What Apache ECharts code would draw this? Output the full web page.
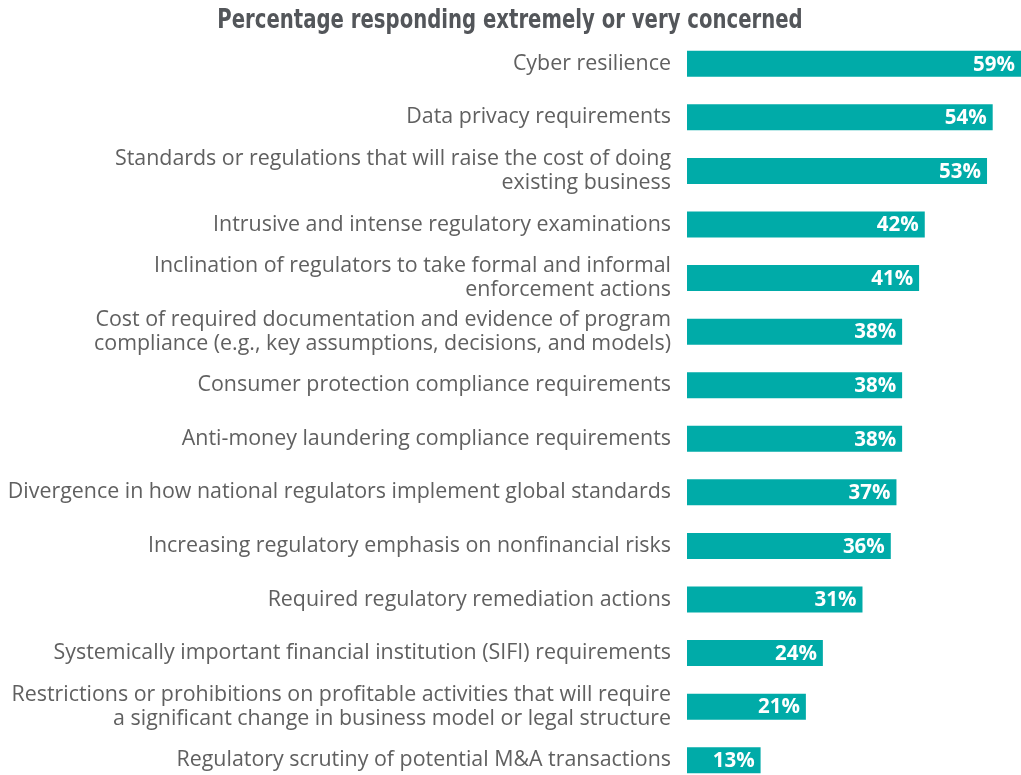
<!DOCTYPE html>
<html>
<head>
<meta charset="utf-8">
<script src="https://cdn.jsdelivr.net/npm/echarts@6/dist/echarts.min.js"></script>
<style>
html,body{margin:0;padding:0;background:#fff;}
#concern{width:1021px;height:775px;}
</style>
</head>
<body>
<div id="concern"></div>
<script>
// survey items, top to bottom
var items = [
	"Cyber resilience",
	"Data privacy requirements",
	"Standards or regulations that will raise the cost of doing\nexisting business",
	"Intrusive and intense regulatory examinations",
	"Inclination of regulators to take formal and informal\nenforcement actions",
	"Cost of required documentation and evidence of program\ncompliance (e.g., key assumptions, decisions, and models)",
	"Consumer protection compliance requirements",
	"Anti-money laundering compliance requirements",
	"Divergence in how national regulators implement global standards",
	"Increasing regulatory emphasis on nonfinancial risks",
	"Required regulatory remediation actions",
	"Systemically important financial institution (SIFI) requirements",
	"Restrictions or prohibitions on profitable activities that will require\na significant change in business model or legal structure",
	"Regulatory scrutiny of potential M&A transactions"
];
var pct = [59, 54, 53, 42, 41, 38, 38, 38, 37, 36, 31, 24, 21, 13];

var myChart = echarts.init(document.getElementById('concern'));
option = {
	backgroundColor: '#fff',
	animation: false,
	graphic: [{
		type: 'text',
		x: 510,
		y: 21,
		scaleX: 0.81,
		style: {
			text: 'Percentage responding extremely or very concerned',
			textAlign: 'center',
			textVerticalAlign: 'middle',
			font: 'bold 27px "DejaVu Sans Condensed", sans-serif',
			fill: '#53565a'
		}
	}],
	grid: {left: 687, top: 37, width: 334, height: 750, outerBoundsMode: 'none'},
	xAxis: {
		type: 'value',
		min: 0,
		max: 59,
		show: false
	},
	yAxis: {
		type: 'category',
		data: items,
		inverse: true,
		axisLine: {show: false},
		axisTick: {show: false},
		axisLabel: {
			margin: 16,
			fontFamily: '"Open Sans", sans-serif',
			fontSize: 21.4,
			lineHeight: 24,
			color: '#606060'
		}
	},
	series: [{
		type: 'bar',
		data: pct,
		barWidth: 26,
		itemStyle: {color: '#00aba8'},
		label: {
			show: true,
			position: 'insideRight',
			offset: [-1, 1],
			formatter: '{c}%',
			fontFamily: '"Open Sans", sans-serif',
			fontWeight: 'bold',
			fontSize: 20.5,
			color: '#fff'
		}
	}]
};
myChart.setOption(option);
</script>
</body>
</html>
